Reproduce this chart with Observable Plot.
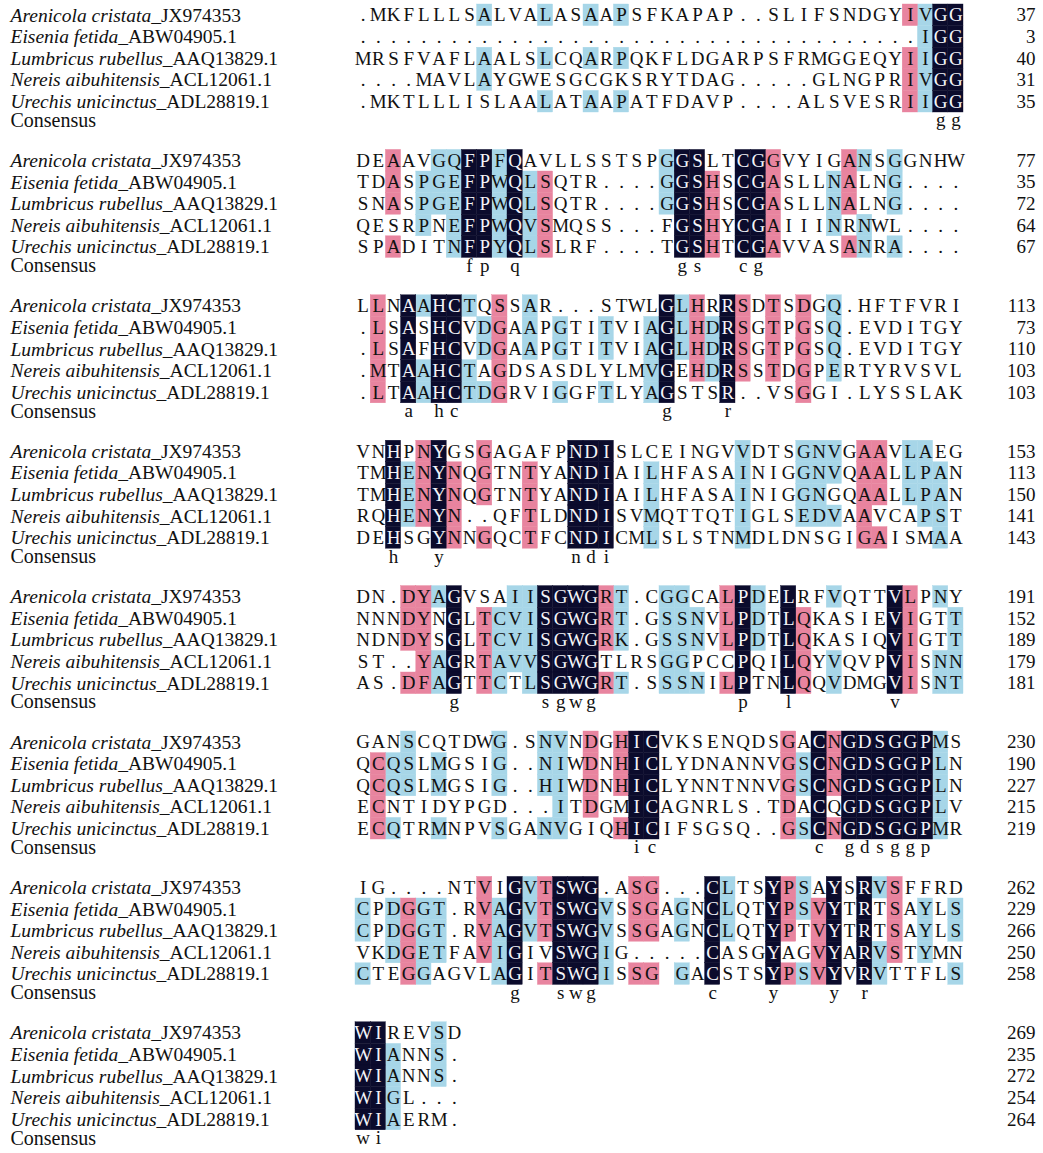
<!DOCTYPE html>
<html><head><meta charset="utf-8">
<script src="https://cdn.jsdelivr.net/npm/d3@7"></script>
<script src="https://cdn.jsdelivr.net/npm/@observablehq/plot@0.6"></script>
<style>body{margin:0;background:#fff}#chart svg{display:block;background:#fff}</style>
</head><body><div id="chart"></div>
<script>
// ---------- data ----------
const species = ["Arenicola cristata", "Eisenia fetida", "Lumbricus rubellus", "Nereis aibuhitensis", "Urechis unicinctus"];
const accessions = ["_JX974353", "_ABW04905.1", "_AAQ13829.1", "_ACL12061.1", "_ADL28819.1"];
const consensusLabel = "Consensus";

const seqBlocks = [
  [".MKFLLLSALVALASAAPSFKAPAP..SLIFSNDGYIVGG",
   ".........." + ".........." + ".........." + "......." + "IGG",
   "MRSFVAFLAALSLCQARPQKFLDGARPSFRMGGEQYIIGG",
   "....MAVLAYGWESGCGKSRYTDAG.....GLNGPRIVGG",
   ".MKTLLLISLAALATAAPATFDAVP....ALSVESRIIGG"],
  ["DEAAVGQFPFQAVLLSSTSPGGSLTCGGVYIGANSGGNHW",
   "TDASPGEFPWQLSQTR....GGSHSCGASLLNALNG....",
   "SNASPGEFPWQLSQTR....GGSHSCGASLLNALNG....",
   "QESRPNEFPWQVSMQSS...FGSHYCGAIIINRNWL....",
   "SPADITNFPYQLSLRF....TGSHTCGAVVASANRA...."],
  ["LLNAAHCTQSSAR...STWLGLHRRSDTSDGQ.HFTFVRI",
   ".LSASHCVDGAAPGTITVIAGLHDRSGTPGSQ.EVDITGY",
   ".LSAFHCVDGAAPGTITVIAGLHDRSGTPGSQ.EVDITGY",
   ".MTAAHCTAGDSASDLYLMVGEHDRSSTDGPERTYRVSVL",
   ".LTAAHCTDGRVIGGFTLYAGSTSR..VSGGI.LYSSLAK"],
  ["VNHPNYGSGAGAFPNDISLCEINGVVDTSGNVGAAVLAEG",
   "TMHENYNQGTNTYANDIAILHFASAINIGGNVQAALLPAN",
   "TMHENYNQGTNTYANDIAILHFASAINIGGNGQAALLPAN",
   "RQHENYN..QFTLDNDISVMQTTQTIGLSEDVAAVCAPST",
   "DEHSGYNNGQCTFCNDICMLSLSTNMDLDNSGIGAISMAA"],
  ["DN.DYAGVSAIISGWGRT.CGGCALPDELRFVQTTVLPNY",
   "NNNDYNGLTCVISGWGRT.GSSNVLPDTLQKASIEVIGTT",
   "NDNDYSGLTCVISGWGRK.GSSNVLPDTLQKASIQVIGTT",
   "ST..YAGRTAVVSGWGTLRSGGPCCPQILQYVQVPVISNN",
   "AS.DFAGTTCTLSGWGRT.SSSNILPTNLQQVDMGVISNT"],
  ["GANSCQTDWG.SNVNDGHICVKSENQDSGACNGDSGGPMS",
   "QCQSLMGSIG..NIWDNHICLYDNANNVGSCNGDSGGPLN",
   "QCQSLMGSIG..HIWDNHICLYNNTNNVGSCNGDSGGPLN",
   "ECNTIDYPGD...ITDGMICAGNRLS.TDACQGDSGGPLV",
   "ECQTRMNPVSGANVGIQHICIFSGSQ..GSCNGDSGGPMR"],
  ["IG....NTVIGVTSWG.ASG...CLTSYPSAYSRVSFFRD",
   "CPDGGT.RVAGVTSWGVSSGAGNCLQTYPSVYTRTSAYLS",
   "CPDGGT.RVAGVTSWGVSSGAGNCLQTYPTVYTRTSAYLS",
   "VKDGETFAVIGIVSWGIG.....CASGYAGVYARVSTYMN",
   "CTEGGAGVLAGITSWGISSG GACSTSYPSVYVRVTTFLS"],
  ["WIREVSD", "WIANNS.", "WIANNS.", "WIGL...", "WIAERM."]
];

// consensus letters: [start column, letters]
const consensusBlocks = [
  [[38, "gg"]],
  [[7, "fp"], [10, "q"], [21, "gs"], [25, "cg"]],
  [[3, "a"], [5, "hc"], [20, "g"], [24, "r"]],
  [[2, "h"], [5, "y"], [14, "ndi"]],
  [[6, "g"], [12, "sgwg"], [25, "p"], [28, "l"], [35, "v"]],
  [[18, "ic"], [30, "c"], [32, "gdsggp"]],
  [[10, "g"], [13, "swg"], [23, "c"], [27, "y"], [31, "y"], [33, "r"]],
  [[0, "wi"]]
];

const endNumbers = [
  [37, 3, 40, 31, 35],
  [77, 35, 72, 64, 67],
  [113, 73, 110, 103, 103],
  [153, 113, 150, 141, 143],
  [191, 152, 189, 179, 181],
  [230, 190, 227, 215, 219],
  [262, 229, 266, 250, 258],
  [269, 235, 272, 254, 264]
];

// shading: [column, level (k = identical, p = >=75%, b = >=50%), rows 1-5 shaded]
const shading = [
  [[8,"b","134"],[12,"b","135"],[15,"b","135"],[17,"b","135"],[36,"p","1345"],[37,"b","12345"],[38,"k","12345"],[39,"k","12345"]],
  [[2,"p","1235"],[4,"b","234"],[5,"b","123"],[6,"b","12345"],[7,"k","12345"],[8,"k","12345"],[9,"b","12345"],[10,"k","12345"],[11,"b","2345"],[12,"p","2345"],
   [20,"b","123"],[21,"k","12345"],[22,"k","12345"],[23,"p","2345"],[25,"k","12345"],[26,"k","12345"],[27,"p","12345"],[31,"b","234"],[32,"p","1235"],[33,"b","145"],[35,"b","1235"]],
  [[1,"p","12345"],[3,"k","12345"],[4,"b","145"],[5,"k","12345"],[6,"k","12345"],[7,"b","145"],[8,"b","235"],[9,"p","12345"],[11,"b","123"],[13,"b","235"],[16,"b","235"],
   [19,"b","2345"],[20,"k","12345"],[21,"b","123"],[22,"p","1234"],[23,"b","234"],[24,"k","12345"],[25,"p","1234"],[27,"p","1234"],[29,"p","12345"],[31,"b","1234"]],
  [[2,"k","12345"],[3,"b","234"],[4,"p","1234"],[5,"k","12345"],[6,"p","2345"],[8,"p","1235"],[11,"p","2345"],[14,"k","12345"],[15,"k","12345"],[16,"k","12345"],
   [19,"b","2345"],[25,"b","12345"],[29,"b","1234"],[30,"b","1234"],[31,"b","124"],[33,"p","12345"],[34,"p","1235"],[36,"b","123"],[37,"b","1234"],[38,"b","2345"]],
  [[3,"p","1235"],[4,"p","12345"],[5,"b","145"],[6,"k","12345"],[8,"p","2345"],[9,"b","2345"],[10,"b","1234"],[11,"b","12345"],[12,"k","12345"],[13,"k","12345"],[14,"k","12345"],[15,"k","12345"],
   [16,"p","1235"],[17,"b","1235"],[20,"b","12345"],[21,"b","12345"],[22,"b","235"],[24,"p","1235"],[25,"k","12345"],[26,"b","123"],[28,"k","12345"],[29,"p","2345"],[31,"b","145"],[35,"k","12345"],[36,"p","12345"],[38,"b","145"],[39,"b","2345"]],
  [[1,"p","2345"],[2,"b","235"],[3,"b","123"],[5,"b","235"],[9,"b","1235"],[12,"b","1235"],[13,"b","12345"],[15,"p","1234"],[17,"p","1235"],[18,"k","12345"],[19,"k","12345"],
   [28,"p","12345"],[29,"b","235"],[30,"k","12345"],[31,"p","1235"],[32,"k","12345"],[33,"k","12345"],[34,"k","12345"],[35,"k","12345"],[36,"k","12345"],[37,"k","12345"],[38,"b","12345"]],
  [[0,"b","235"],[2,"b","234"],[3,"p","2345"],[4,"b","2345"],[5,"b","234"],[8,"p","1234"],[9,"b","2345"],[10,"k","12345"],[11,"b","123"],[12,"p","1235"],[13,"k","12345"],[14,"k","12345"],[15,"k","12345"],
   [16,"b","2345"],[18,"p","1235"],[19,"p","1235"],[21,"b","235"],[23,"k","12345"],[24,"b","123"],[27,"k","12345"],[28,"p","1235"],[29,"b","125"],[30,"p","2345"],[31,"k","12345"],[33,"k","12345"],[34,"b","145"],[35,"p","1234"],[37,"b","234"],[39,"b","235"]],
  [[0,"k","12345"],[1,"k","12345"],[2,"b","2345"],[5,"b","123"]]
];

// ---------- styles / layout ----------
const shadeColor = {k: "#0b0b2c", p: "#e8849f", b: "#a7d6e8"};
const FONT = "Liberation Serif, Times New Roman, serif";
const FS = 19;          // sequence letters
const LFS = 19.5;       // row labels
const BLOCK_STEP = 145.4 / 21.6;  // block spacing in row units
const X0 = 355, X1 = 963;         // pixel span of the 40 alignment columns

const rowY = (b, r) => b * BLOCK_STEP + r;

// ---------- derived tables ----------
const shadeKey = new Map();
const boxes = [];
shading.forEach((blk, b) => blk.forEach(([c, t, rows]) => [...rows].forEach(rr => {
  const r = +rr - 1;
  boxes.push({b, r, c, t});
  shadeKey.set(`${b}-${r}-${c}`, t);
})));

const cells = [];
seqBlocks.forEach((blk, b) => blk.forEach((s, r) => [...s].forEach((ch, c) => {
  if (ch !== " ") cells.push({b, r, c, ch, dark: shadeKey.get(`${b}-${r}-${c}`) === "k"});
})));

const consCells = [];
consensusBlocks.forEach((blk, b) => blk.forEach(([c0, letters]) => [...letters].forEach((ch, i) => consCells.push({b, c: c0 + i, ch}))));

const labels = [];
const nums = [];
seqBlocks.forEach((blk, b) => {
  species.forEach((sp, r) => {
    labels.push({b, r, name: sp, acc: accessions[r]});
    nums.push({b, r, n: endNumbers[b][r]});
  });
});
const consLabels = seqBlocks.map((_, b) => ({b, r: 5, name: consensusLabel}));

// measure italic species names so the upright accession follows them
const ctx = document.createElement("canvas").getContext("2d");
ctx.font = `italic ${LFS}px "Liberation Serif"`;
const colW = (X1 - X0) / 40;
const LABEL_X = (10 - X0) / colW;
labels.forEach(d => { d.accX = LABEL_X + ctx.measureText(d.name).width / colW; });

const textBase = {fontFamily: FONT, fontSize: FS};
const labelBase = {fontFamily: FONT, fontSize: LFS, fill: "#111"};

const chart = Plot.plot({
  width: 1043,
  height: 1153,
  margin: 0,
  x: {domain: [0, 40], range: [X0, X1], axis: null},
  y: {domain: [0, 53.25], range: [4, 4 + 53.25 * 21.6], axis: null},
  marks: [
    ...["b", "p", "k"].map(t => Plot.rect(boxes.filter(d => d.t === t), {
      x1: d => d.c, x2: d => d.c + 1,
      y1: d => rowY(d.b, d.r), y2: d => rowY(d.b, d.r) + 1,
      fill: shadeColor[t], stroke: shadeColor[t], strokeWidth: 0.4
    })),
    Plot.text(cells.filter(d => !d.dark), {x: d => d.c + 0.5, y: d => rowY(d.b, d.r) + 0.5, text: "ch", fill: "#111", ...textBase}),
    Plot.text(cells.filter(d => d.dark), {x: d => d.c + 0.5, y: d => rowY(d.b, d.r) + 0.5, text: "ch", fill: "#f4f4f8", ...textBase}),
    Plot.text(consCells, {x: d => d.c + 0.5, y: d => rowY(d.b, 5) + 0.5, text: "ch", fill: "#111", dy: -3, ...textBase}),
    Plot.text(labels, {x: LABEL_X, y: d => rowY(d.b, d.r) + 0.5, text: "name", textAnchor: "start", fontStyle: "italic", ...labelBase}),
    Plot.text(labels, {x: "accX", y: d => rowY(d.b, d.r) + 0.5, text: "acc", textAnchor: "start", ...labelBase}),
    Plot.text(consLabels, {x: LABEL_X, y: d => rowY(d.b, d.r) + 0.5, text: "name", textAnchor: "start", dy: -3, ...labelBase, fontSize: 20}),
    Plot.text(nums, {x: (1035 - X0) / colW, y: d => rowY(d.b, d.r) + 0.5, text: d => String(d.n), textAnchor: "end", ...labelBase, fontSize: FS})
  ]
});
document.getElementById("chart").appendChild(chart);
</script>
</body></html>
